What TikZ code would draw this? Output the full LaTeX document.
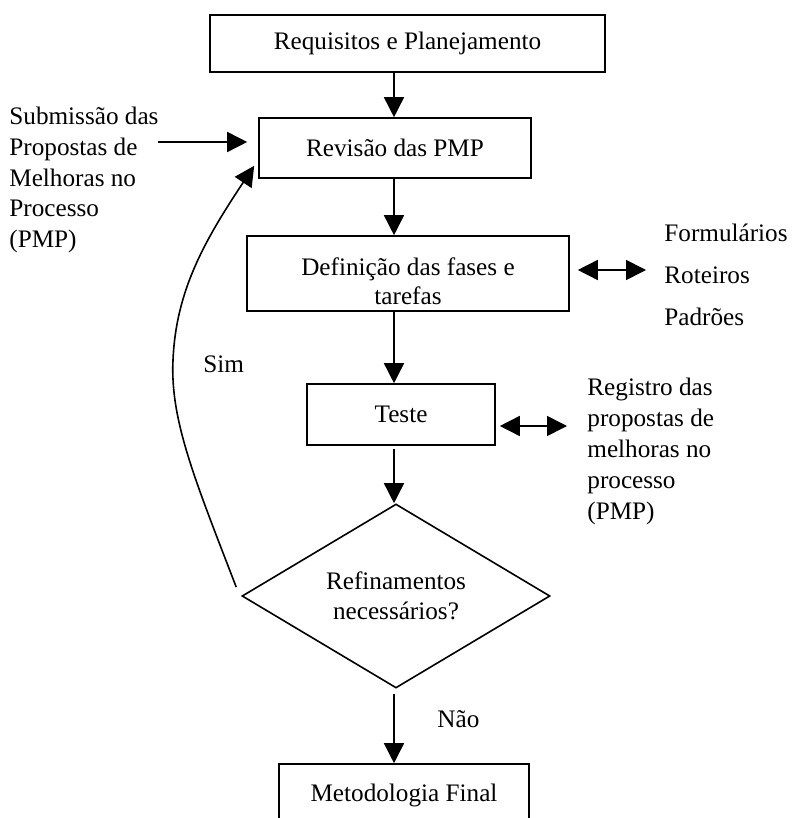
\documentclass[tikz,border=0pt]{standalone}
\usepackage{fontspec}
\setmainfont{Liberation Serif}
\usetikzlibrary{arrows.meta,shapes.geometric}
\begin{document}
\begin{tikzpicture}[x=0.5pt,y=-0.5pt,
  every node/.style={font=\fontsize{12.6}{15.3}\selectfont},
  box/.style={draw, line width=0.8pt, inner sep=0pt},
  arr/.style={line width=0.8pt, -{Triangle[length=10pt,width=10pt]}},
  darr/.style={line width=0.8pt, {Triangle[length=10pt,width=10pt]}-{Triangle[length=10pt,width=10pt]}},
  txt/.style={inner sep=0pt, align=left}]
\clip (0,0) rectangle (794,818);
\fill[white] (0,0) rectangle (794,818);
% boxes
\node[box, minimum width=197.5pt, minimum height=28.5pt] (req) at (407.5,43.5) {Requisitos e Planejamento};
\node[box, minimum width=136pt, minimum height=30pt] (rev) at (395,148) {Revisão das PMP};
\node[box, minimum width=161pt, minimum height=37.5pt] (def) at (408,273.5) {};
\node[txt, align=center, anchor=north, font=\fontsize{12.6}{14.5}\selectfont] (deft) at (408,257) {Definição das fases e\\tarefas};
\node[box, minimum width=94pt, minimum height=30.5pt] (tst) at (401,414.5) {Teste};
\node[draw, diamond, line width=0.8pt, inner sep=0pt, minimum width=154pt, minimum height=92pt, shape aspect=1.67, align=center, font=\fontsize{12.6}{15}\selectfont] (dec) at (396,596) {Refinamentos\\necessários?};
\node[box, minimum width=125pt, minimum height=31pt] (met) at (404,795) {Metodologia Final};
% free texts
\node[txt, anchor=north west] (sub) at (9,107) {Submissão das\\Propostas de\\Melhoras no\\Processo\\(PMP)};
\node[txt, anchor=base west] (frm) at (664,242) {Formulários};
\node[txt, anchor=base west] (rot) at (664,283) {Roteiros};
\node[txt, anchor=base west] (pad) at (664,325) {Padrões};
\node[txt, anchor=north west, font=\fontsize{12.6}{15.5}\selectfont] (reg) at (587,378) {Registro das\\propostas de\\melhoras no\\processo\\(PMP)};
\node[txt, anchor=base west] (sim) at (203,372) {Sim};
\node[txt, anchor=base west] (nao) at (437,727) {Não};
% connectors
\coordinate (ax) at (394,0);
\draw[arr] (req.south -| ax) -- (rev.north -| ax);
\draw[arr] (rev.south -| ax) -- (def.north -| ax);
\draw[arr] (def.south -| ax) -- (tst.north -| ax);
\draw[arr, shorten <=1.5pt] (tst.south -| ax) -- (dec.north -| ax);
\draw[arr, shorten <=2.5pt] (dec.south -| ax) -- (met.north -| ax);
\coordinate (subE) at (158,142);
\draw[arr, shorten >=5.5pt] (subE) -- (rev.west |- subE);
\coordinate (d1) at (646,270);
\draw[darr, shorten <=4pt] (def.east |- d1) -- (d1);
\coordinate (d2) at (567,426);
\draw[darr, shorten <=2pt] (tst.east |- d2) -- (d2);
\draw[arr] ([shift={(-5,-9)}]dec.west) .. controls (195,480) and (170,420) .. (173,360) .. controls (176,290) and (205,240) .. ([shift={(-4,-13)}]rev.south west);
\end{tikzpicture}
\end{document}
